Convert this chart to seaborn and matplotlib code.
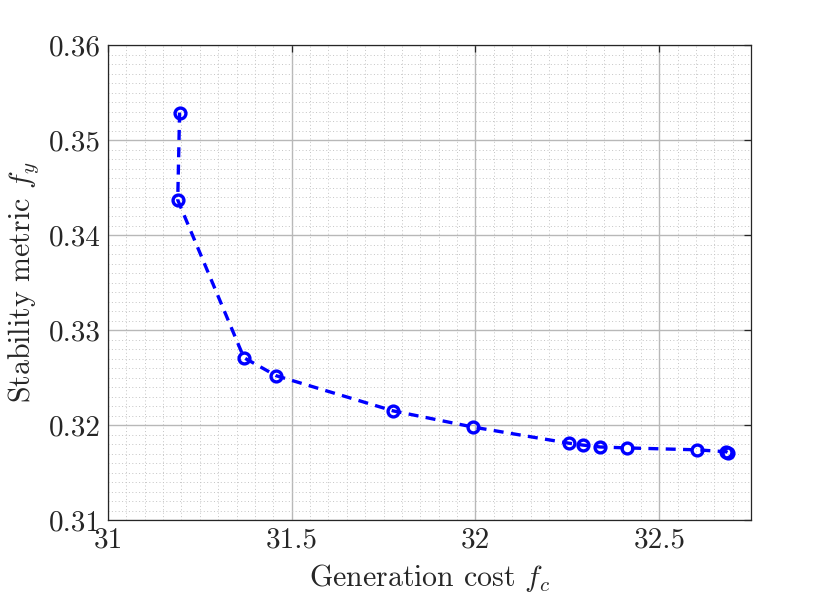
import numpy as np
import pandas as pd
import matplotlib
matplotlib.use("Agg")
import matplotlib.pyplot as plt
import seaborn as sns

# data
gen_cost = [31.195, 31.190, 31.370, 31.458, 31.776, 31.993, 32.254, 32.292,
            32.340, 32.413, 32.603, 32.682, 32.687]
stability = [0.3529, 0.3437, 0.3271, 0.3252, 0.3215, 0.3198, 0.3181, 0.3179,
             0.3177, 0.3176, 0.3174, 0.3172, 0.3171]
x_ticks = [31, 31.5, 32, 32.5]
y_ticks = [0.31, 0.32, 0.33, 0.34, 0.35, 0.36]

sns.set_theme(style="white")
plt.rcParams['font.family'] = 'serif'
plt.rcParams['font.serif'] = ['cmr10', 'DejaVu Serif']
plt.rcParams['mathtext.fontset'] = 'cm'
plt.rcParams['axes.formatter.use_mathtext'] = True

df = pd.DataFrame({"x": gen_cost, "y": stability})

fig = plt.figure(figsize=(8.3, 6.02), dpi=100)
ax = fig.add_axes([0.130, 0.136, 0.775, 0.789])

sns.lineplot(data=df, x="x", y="y", sort=False, ax=ax, color=(0, 0, 1),
             linestyle=(0, (3.0, 2.2)), linewidth=2.4, marker="o",
             markersize=7.8, markerfacecolor="none", markeredgecolor=(0, 0, 1),
             markeredgewidth=2.4, zorder=5)

ax.set_xlim(31, 32.75)
ax.set_ylim(0.31, 0.36)
ax.set_xticks(x_ticks)
ax.set_xticklabels([f"{v:g}" for v in x_ticks])
ax.set_yticks(y_ticks)
ax.set_yticklabels([f"{v:.2f}" for v in y_ticks])
ax.set_xticks(np.arange(31, 32.7501, 0.05), minor=True)
ax.set_yticks(np.arange(0.31, 0.36001, 0.001), minor=True)

ax.grid(True, which="major", color="#b8b8b8", linewidth=1.0, linestyle="-")
ax.grid(True, which="minor", color="#c4c4c4", linewidth=0.7, linestyle=(0, (1, 2.5)))
ax.set_axisbelow(True)

ax.tick_params(which="major", direction="in", length=5, width=0.9,
               top=True, right=True, colors="#262626", labelsize=21,
               pad=5)
ax.tick_params(which="minor", length=0)
for s in ax.spines.values():
    s.set_color("#262626")
    s.set_linewidth(0.9)
    s.set_visible(True)

ax.set_xlabel("Generation cost $f_c$", fontsize=21.5, color="#262626", labelpad=6)
ax.set_ylabel("Stability metric $f_y$", fontsize=21.5, color="#262626", labelpad=6)

fig.savefig("out.png", dpi=100, facecolor="white")
